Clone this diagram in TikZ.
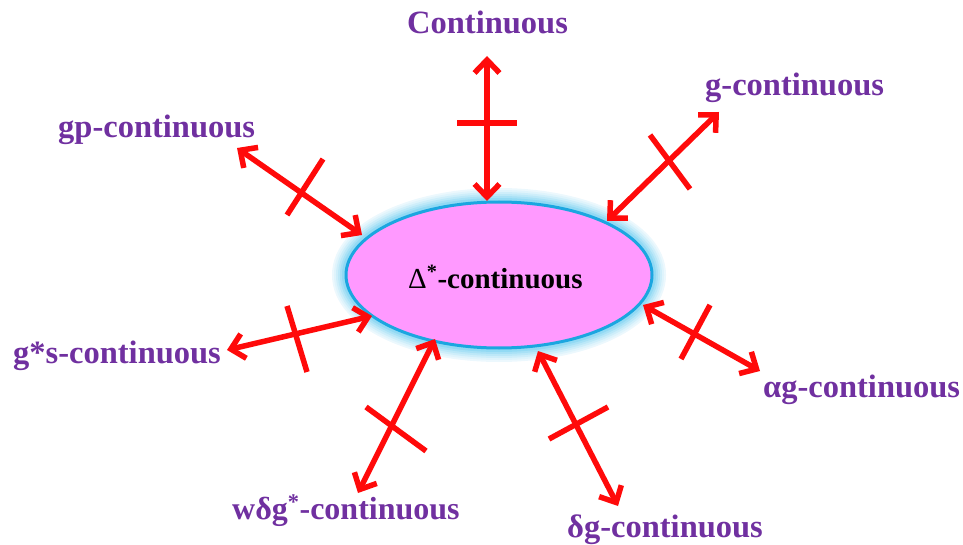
\documentclass[tikz,border=0pt]{standalone}
\usepackage{fontspec}
\setmainfont{Liberation Serif}
\usetikzlibrary{arrows.meta,shapes.geometric}
\definecolor{lblpurple}{HTML}{7030A0}
\definecolor{arrred}{HTML}{FF0A0A}
\definecolor{ellfill}{HTML}{FF99FF}
\definecolor{ellborder}{HTML}{1BA6E0}
\definecolor{glowc}{HTML}{7FD3F2}
\begin{document}
\begin{tikzpicture}[x=1pt,y=-1pt,
  lbl/.style={anchor=base west, inner sep=0pt, text=lblpurple, font=\fontsize{32.5}{36}\selectfont\bfseries},
  rel/.style={draw=arrred, line width=5.5pt, {Straight Barb[length=13pt,width=25pt]}-{Straight Barb[length=13pt,width=25pt]}},
  crossbar/.style={draw=arrred, line width=5.5pt}
]
\useasboundingbox (0,0) rectangle (963,545);
% glow
\foreach \w/\c in {28/15,24/25,20/38,16/52,12/68,8/85}{
  \draw[line width=\w pt, draw=glowc!\c!white] (499,275) ellipse [x radius=153, y radius=73];
}
\node[draw=ellborder, line width=3pt, fill=ellfill, ellipse, minimum width=306pt, minimum height=146pt, inner sep=0pt] (e) at (499,275) {};
\node[anchor=base west, inner sep=0pt, font=\fontsize{29}{32}\selectfont] (etxt) at (408,288) {Δ\textsuperscript{\textbf{*}}\textbf{-continuous}};
% labels
\node[lbl] (cont) at (407,34) {Continuous};
\node[lbl] (gc) at (705,96) {g-continuous};
\node[lbl] (gpc) at (58,138) {gp-continuous};
\node[lbl] (gsc) at (13,363) {g*s-continuous};
\node[lbl] (agc) at (763,397) {αg-continuous};
\node[lbl, font=\fontsize{32}{36}\selectfont\bfseries] (wdg) at (232,519) {wδg\textsuperscript{*}-continuous};
\node[lbl] (dgc) at (567,537) {δg-continuous};
% arrow end points
\coordinate (c1) at (487,56);   \coordinate (c2) at (487,201);
\coordinate (g1) at (719,112);  \coordinate (g2) at (607,221);
\coordinate (p1) at (237,148);  \coordinate (p2) at (362,235);
\coordinate (s1) at (227,350);  \coordinate (s2) at (372,316);
\coordinate (w1) at (435,339);  \coordinate (w2) at (358,493);
\coordinate (d1) at (538,351);  \coordinate (d2) at (618,506);
\coordinate (a1) at (643,305);  \coordinate (a2) at (760,371);
\draw[rel] (c1) -- (c2);
\draw[rel] (g1) -- (g2);
\draw[rel] (p1) -- (p2);
\draw[rel] (s1) -- (s2);
\draw[rel] (w1) -- (w2);
\draw[rel] (d1) -- (d2);
\draw[rel] (a1) -- (a2);
% cross bars
\draw[crossbar] (457,123) -- (517,123);
\draw[crossbar] (650,135) -- (690,189);
\draw[crossbar] (323,159) -- (287,215);
\draw[crossbar] (287,306) -- (307,372);
\draw[crossbar] (366,407) -- (426,451);
\draw[crossbar] (549,439) -- (608,407);
\draw[crossbar] (710,305) -- (681,359);
\end{tikzpicture}
\end{document}
